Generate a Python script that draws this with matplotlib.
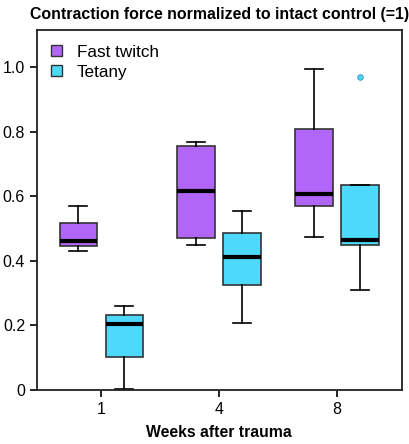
import matplotlib
matplotlib.use("Agg")
import matplotlib.pyplot as plt
from matplotlib.patches import Patch

plt.rcParams['font.family'] = ['Liberation Sans', 'DejaVu Sans']

weeks = ['1', '4', '8']
# whislo, q1, med, q3, whishi
fast_twitch = [
    [0.431, 0.446, 0.463, 0.517, 0.570],
    [0.450, 0.472, 0.617, 0.757, 0.767],
    [0.474, 0.571, 0.608, 0.808, 0.993],
]
tetany = [
    [0.004, 0.101, 0.205, 0.231, 0.260],
    [0.208, 0.324, 0.412, 0.486, 0.553],
    [0.311, 0.449, 0.464, 0.636, 0.636],
]
tetany_fliers = [[], [], [0.971]]

fast_color = '#b266f7'
tet_color = '#4dd9fc'

def make_stats(rows, fliers=None):
    out = []
    for i, r in enumerate(rows):
        out.append(dict(whislo=r[0], q1=r[1], med=r[2], q3=r[3], whishi=r[4],
                        fliers=fliers[i] if fliers else []))
    return out

fig = plt.figure(figsize=(4.1, 4.44), dpi=100)
ax = fig.add_axes([0.090, 0.1216, 0.890, 0.8108])

pos = [1, 2, 3]
off = 0.195
w = 0.315
for stats, color, sign, fl in [(fast_twitch, fast_color, -1, None),
                               (tetany, tet_color, 1, tetany_fliers)]:
    ax.bxp(make_stats(stats, fl), positions=[p + sign * off for p in pos],
           widths=w, patch_artist=True, showfliers=True,
           boxprops=dict(facecolor=color, edgecolor='#333333', linewidth=1.2),
           medianprops=dict(color='black', linewidth=3),
           whiskerprops=dict(color='black', linewidth=1.2),
           capprops=dict(color='black', linewidth=1.2),
           capwidths=w * 0.5,
           flierprops=dict(marker='o', markersize=4, markerfacecolor=color,
                           markeredgecolor='#3a8fb0', markeredgewidth=0.6))

ax.set_xlim(0.455, 3.55)
ax.set_ylim(0, 1.115)
ax.set_xticks(pos)
ax.set_xticklabels(weeks)
ax.set_yticks([0, 0.2, 0.4, 0.6, 0.8, 1.0])
ax.set_yticklabels(['0', '0.2', '0.4', '0.6', '0.8', '1.0'])
ax.tick_params(direction='out', length=5, width=1.2, labelsize=11.5, colors='black')
for s in ax.spines.values():
    s.set_linewidth(1.3)
    s.set_color('#222222')

ax.set_xlabel('Weeks after trauma', fontsize=11.3, fontweight='bold', labelpad=6)
ax.set_title('Contraction force normalized to intact control (=1)',
             fontsize=11.4, fontweight='bold', pad=8)

handles = [Patch(facecolor=fast_color, edgecolor='#333333', label='Fast twitch'),
           Patch(facecolor=tet_color, edgecolor='#333333', label='Tetany')]
ax.legend(handles=handles, loc='upper left', frameon=False, fontsize=12.3,
          handlelength=0.6, handleheight=0.6, handletextpad=0.9,
          borderaxespad=0.45, labelspacing=0.3)

fig.savefig('out.png', dpi=100)
